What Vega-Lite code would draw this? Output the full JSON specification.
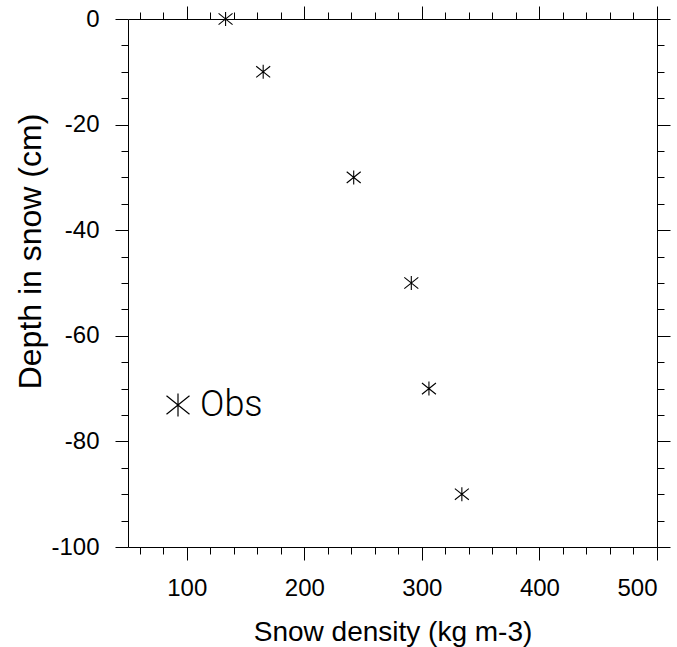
{
  "$schema": "https://vega.github.io/schema/vega-lite/v6.json",
  "width": 529,
  "height": 528,
  "autosize": "none",
  "padding": {"left": 128, "top": 19, "right": 20, "bottom": 100},
  "background": "white",
  "config": {
    "view": {"stroke": null},
    "axis": {
      "domainColor": "black",
      "tickColor": "black",
      "labelColor": "black",
      "titleColor": "black",
      "labelFont": "Liberation Sans",
      "titleFont": "Liberation Sans",
      "labelFontSize": 24,
      "titleFontSize": 32,
      "titleFontWeight": "normal",
      "grid": false,
      "domainWidth": 1,
      "tickWidth": 1
    }
  },
  "data": {
    "values": [
      {"density": 133, "depth": 0, "series": "Obs"},
      {"density": 165, "depth": -10, "series": "Obs"},
      {"density": 242, "depth": -30, "series": "Obs"},
      {"density": 291, "depth": -50, "series": "Obs"},
      {"density": 306, "depth": -70, "series": "Obs"},
      {"density": 334, "depth": -90, "series": "Obs"}
    ]
  },
  "resolve": {"axis": {"x": "independent", "y": "independent"}},
  "layer": [
    {
      "mark": {"type": "point", "shape": "M0,-1L0,1M-1,-0.8L1,0.8M-1,0.8L1,-0.8", "size": 196, "filled": false, "strokeWidth": 1.1, "opacity": 1},
      "encoding": {
        "x": {"field": "density", "type": "quantitative", "scale": {"domain": [50, 500], "nice": false, "zero": false},
          "axis": {"orient": "bottom", "values": [100, 200, 300, 400, 500], "tickSize": 13, "labelPadding": 16,
            "title": "Snow density (kg m-3)", "titleFontSize": 28,
            "titleBaseline": "alphabetic", "titleY": 93}},
        "y": {"field": "depth", "type": "quantitative", "scale": {"domain": [-100, 0], "nice": false, "zero": false},
          "axis": {"orient": "left", "values": [0, -20, -40, -60, -80, -100], "tickSize": 13, "labelPadding": 16,
            "labelExpr": "toString(datum.value)",
            "title": "Depth in snow (cm)", "titleFontSize": 32, "titleAngle": -90, "titleAlign": "center",
            "titleBaseline": "alphabetic", "titleX": -88, "titleY": 232}},
        "color": {"field": "series", "type": "nominal", "scale": {"range": ["black"]},
          "legend": {"orient": "none", "legendX": 32, "legendY": 368, "title": null,
            "symbolType": "M0,-1L0,1M-1,-0.8L1,0.8M-1,0.8L1,-0.8", "symbolSize": 529, "symbolStrokeWidth": 1.2,
            "symbolFillColor": "transparent", "symbolStrokeColor": "black",
            "labelFont": "Roboto Light, Lato Light, Roboto", "labelFontWeight": 300, "labelFontSize": 36, "labelOffset": 4, "labelColor": "black"}}
      }
    },
    {
      "mark": {"type": "point", "opacity": 0},
      "encoding": {
        "x": {"field": "density", "type": "quantitative", "scale": {"domain": [50, 500], "nice": false, "zero": false},
          "axis": {"orient": "bottom", "values": [60, 80, 120, 140, 160, 180, 220, 240, 260, 280, 320, 340, 360, 380, 420, 440, 460, 480], "tickSize": 7, "labels": false, "domain": false, "title": null}},
        "y": {"field": "depth", "type": "quantitative", "scale": {"domain": [-100, 0], "nice": false, "zero": false},
          "axis": {"orient": "left", "values": [-5, -10, -15, -25, -30, -35, -45, -50, -55, -65, -70, -75, -85, -90, -95], "tickSize": 7, "labels": false, "domain": false, "title": null}}
      }
    },
    {
      "mark": {"type": "point", "opacity": 0},
      "encoding": {
        "x": {"field": "density", "type": "quantitative", "scale": {"domain": [50, 500], "nice": false, "zero": false},
          "axis": {"orient": "top", "values": [100, 200, 300, 400, 500], "tickSize": 13, "labels": false, "title": null}},
        "y": {"field": "depth", "type": "quantitative", "scale": {"domain": [-100, 0], "nice": false, "zero": false},
          "axis": {"orient": "right", "values": [0, -20, -40, -60, -80, -100], "tickSize": 13, "labels": false, "title": null}}
      }
    },
    {
      "mark": {"type": "point", "opacity": 0},
      "encoding": {
        "x": {"field": "density", "type": "quantitative", "scale": {"domain": [50, 500], "nice": false, "zero": false},
          "axis": {"orient": "top", "values": [60, 80, 120, 140, 160, 180, 220, 240, 260, 280, 320, 340, 360, 380, 420, 440, 460, 480], "tickSize": 7, "labels": false, "domain": false, "title": null}},
        "y": {"field": "depth", "type": "quantitative", "scale": {"domain": [-100, 0], "nice": false, "zero": false},
          "axis": {"orient": "right", "values": [-5, -10, -15, -25, -30, -35, -45, -50, -55, -65, -70, -75, -85, -90, -95], "tickSize": 7, "labels": false, "domain": false, "title": null}}
      }
    }
  ]
}
